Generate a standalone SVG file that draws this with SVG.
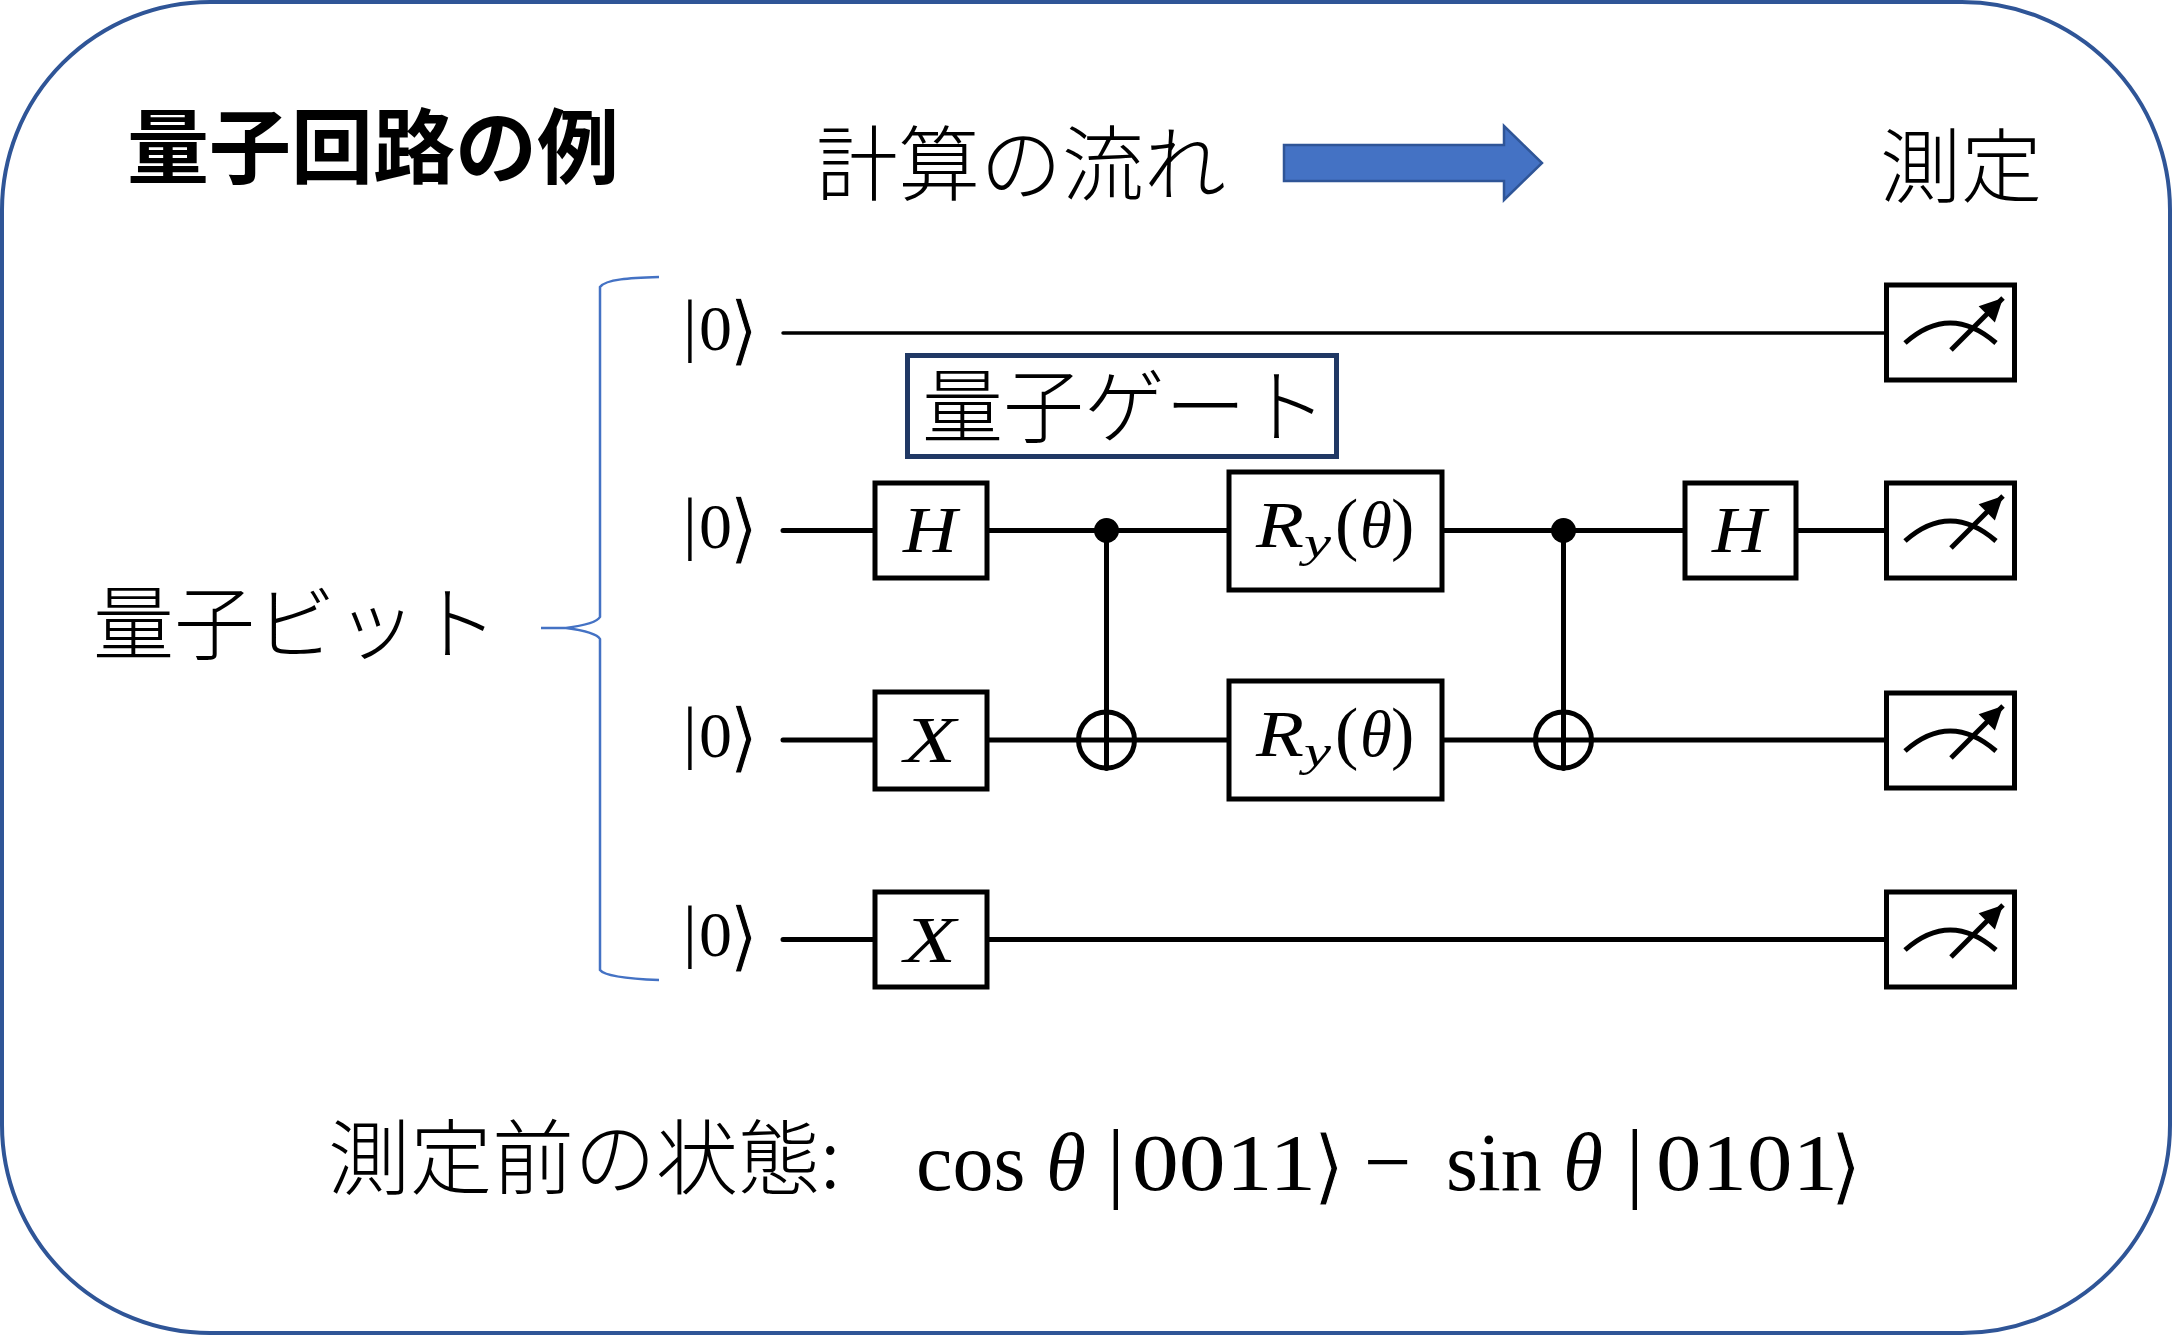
<svg xmlns="http://www.w3.org/2000/svg" width="2174" height="1335" viewBox="0 0 2174 1335">
<style>
.jp{font-family:"Noto Sans CJK JP","Noto Sans",sans-serif;font-size:81px;font-weight:300;fill:#000}
.m{font-family:"Liberation Serif","DejaVu Serif",serif;fill:#000}
.i{font-style:italic}
.a{font-family:"DejaVu Sans",sans-serif;fill:#000;stroke:#fff;stroke-width:1}
.w{stroke:#000;stroke-width:5;fill:none;stroke-linecap:round}
.b{stroke:#000;stroke-width:5;fill:#fff}
.bar{font-size:69px}
.z{font-size:63px}
.ang{font-size:76px}
.g{font-size:65px}
</style>
<defs>
<marker id="nh" viewBox="0 0 10 10" refX="10" refY="5" markerWidth="5" markerHeight="4.600" orient="auto" markerUnits="strokeWidth"><path d="M0 0L10 5L0 10Z" fill="#000"/></marker>
<g id="meter">
<rect class="b" x="1886.500" y="0" width="128" height="95"/>
<path d="M1905 58Q1950 18 1996 58" class="w" style="stroke-linecap:butt"/>
<path d="M1951 65L2003 13" class="w" style="stroke-linecap:butt" marker-end="url(#nh)"/>
</g>
</defs>
<rect width="2174" height="1335" fill="#fff"/>
<rect id="frame" x="2" y="2" width="2168" height="1331" rx="208" ry="208" fill="none" stroke="#2F5597" stroke-width="4"/>
<g id="connectors">
<path class="w" style="stroke-width:3.500" d="M783 333H1887"/>
<path class="w" d="M783 530.500H875M988 530.500H1228M1443 530.500H1684M1797 530.500H1887"/>
<path class="w" d="M783 740H875M988 740H1228M1443 740H1887"/>
<path class="w" d="M783 939.500H875M988 939.500H1887"/>
<path class="w" d="M1106.500 530.500V768.500"/>
<path class="w" d="M1563.500 530.500V768.500"/>
<path d="M659 277C630 278 606 279 600 287V617Q596 624 566 628H541H566Q596 632 600 639V970Q606 978 659 980" fill="none" stroke="#4472C4" stroke-width="2.500"/>
<path d="M1284 145H1504V126L1542 163L1504 200V181H1284Z" fill="#4472C4" stroke="#2F5597" stroke-width="2.500"/>
</g>
<g id="title"><text class="jp" x="127" y="177" style="font-weight:700;font-size:82px">量子回路の例</text></g>
<g id="flow"><text class="jp" x="816" y="194" style="font-size:82px">計算の流れ</text></g>
<g id="measure-label"><text class="jp" x="1880" y="196">測定</text></g>
<g id="qubit-label"><text class="jp" x="93" y="653">量子ビット</text></g>
<g id="gate-label"><rect x="907.500" y="355.500" width="429" height="101" fill="#fff" stroke="#203864" stroke-width="5"/><text class="jp" x="922" y="436">量子ゲート</text></g>
<g id="ket1"><text class="m bar" x="683" y="348">|</text><text class="m z" x="699" y="349.500" textLength="33" lengthAdjust="spacingAndGlyphs">0</text><text class="a ang" x="729" y="356">⟩</text></g>
<g id="ket2"><text class="m bar" x="683" y="546">|</text><text class="m z" x="699" y="547.500" textLength="33" lengthAdjust="spacingAndGlyphs">0</text><text class="a ang" x="729" y="554">⟩</text></g>
<g id="ket3"><text class="m bar" x="683" y="755">|</text><text class="m z" x="699" y="756.500" textLength="33" lengthAdjust="spacingAndGlyphs">0</text><text class="a ang" x="729" y="763">⟩</text></g>
<g id="ket4"><text class="m bar" x="683" y="954">|</text><text class="m z" x="699" y="955.500" textLength="33" lengthAdjust="spacingAndGlyphs">0</text><text class="a ang" x="729" y="962">⟩</text></g>
<g id="h1"><rect class="b" x="875" y="483" width="112" height="95"/><text class="m i g" x="903" y="552" textLength="54" lengthAdjust="spacingAndGlyphs">H</text></g>
<g id="x1"><rect class="b" x="875" y="692" width="112" height="97"/><text class="m i g" x="904" y="762" textLength="52" lengthAdjust="spacingAndGlyphs">X</text></g>
<g id="x2"><rect class="b" x="875" y="892" width="112" height="95"/><text class="m i g" x="904" y="962" textLength="52" lengthAdjust="spacingAndGlyphs">X</text></g>
<g id="cnot1"><circle cx="1106.500" cy="530.500" r="12.500" fill="#000"/><circle cx="1106.500" cy="740" r="28" fill="none" stroke="#000" stroke-width="5"/></g>
<g id="ry1"><rect class="b" x="1229" y="472" width="213" height="118"/><text class="m i g" x="1256" y="546.500" textLength="48" lengthAdjust="spacingAndGlyphs">R</text><text class="m i" font-size="44" x="1304" y="557" textLength="27" lengthAdjust="spacingAndGlyphs">y</text><text class="m" font-size="70" x="1335" y="546.500">(</text><text class="m i g" x="1360" y="546.500">θ</text><text class="m" font-size="70" x="1391" y="546.500">)</text></g>
<g id="ry2"><rect class="b" x="1229" y="681" width="213" height="118"/><text class="m i g" x="1256" y="755.500" textLength="48" lengthAdjust="spacingAndGlyphs">R</text><text class="m i" font-size="44" x="1304" y="766" textLength="27" lengthAdjust="spacingAndGlyphs">y</text><text class="m" font-size="70" x="1335" y="755.500">(</text><text class="m i g" x="1360" y="755.500">θ</text><text class="m" font-size="70" x="1391" y="755.500">)</text></g>
<g id="cnot2"><circle cx="1563.500" cy="530.500" r="12.500" fill="#000"/><circle cx="1563.500" cy="740" r="28" fill="none" stroke="#000" stroke-width="5"/></g>
<g id="h2"><rect class="b" x="1685" y="483" width="111" height="95"/><text class="m i g" x="1712" y="552" textLength="54" lengthAdjust="spacingAndGlyphs">H</text></g>
<g id="m1"><use href="#meter" y="285"/></g>
<g id="m2"><use href="#meter" y="483"/></g>
<g id="m3"><use href="#meter" y="693"/></g>
<g id="m4"><use href="#meter" y="892"/></g>
<g id="state">
<text class="jp" x="328" y="1188" style="font-size:82px">測定前の状態:</text>
<text class="m" font-size="82" x="916" y="1190">cos</text>
<text class="m i" font-size="82" x="1046" y="1190" textLength="40" lengthAdjust="spacingAndGlyphs">θ</text>
<text class="m" font-size="88" x="1107" y="1191">|</text>
<text class="m" font-size="81" x="1132" y="1190" textLength="184" lengthAdjust="spacingAndGlyphs">0011</text>
<text class="a" font-size="82" x="1313" y="1193.500">⟩</text>
<text class="m" font-size="84" x="1364" y="1190">−</text>
<text class="m" font-size="82" x="1446" y="1190">sin</text>
<text class="m i" font-size="82" x="1563" y="1190" textLength="40" lengthAdjust="spacingAndGlyphs">θ</text>
<text class="m" font-size="88" x="1626" y="1191">|</text>
<text class="m" font-size="81" x="1656" y="1190" textLength="182" lengthAdjust="spacingAndGlyphs">0101</text>
<text class="a" font-size="82" x="1830" y="1193.500">⟩</text>
</g>
</svg>
